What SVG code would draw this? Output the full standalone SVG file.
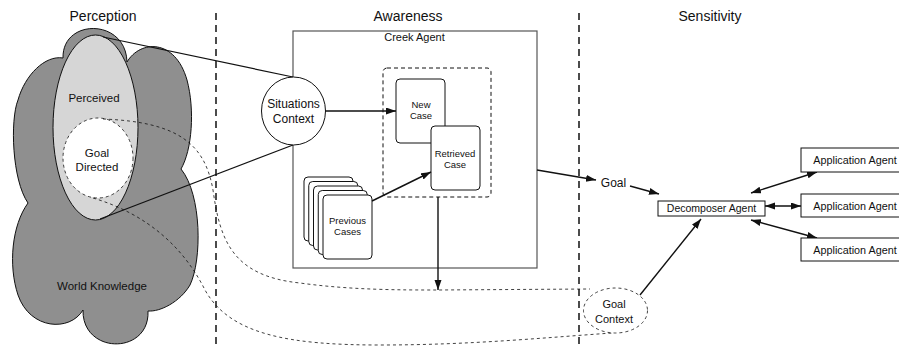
<svg xmlns="http://www.w3.org/2000/svg" width="899" height="348" viewBox="0 0 899 348">
  <style>
    text { font-family: "Liberation Sans", Arial, Helvetica, sans-serif; fill: #111; text-anchor: middle; }
    .hdr { font-size: 14px; }
    .lbl { font-size: 11.5px; }
    .sm { font-size: 9.5px; }
    .box { fill: #fff; stroke: #111; stroke-width: 1; }
    .card { fill: #fff; stroke: #111; stroke-width: 1; }
    .sep { stroke: #111; stroke-width: 1.5; stroke-dasharray: 7 5; fill: none; }
    .thin { stroke: #111; stroke-width: 0.8; stroke-dasharray: 3 3; fill: none; }
    .edge { stroke: #111; stroke-width: 1.2; fill: none; }
    .arrow { stroke: #111; stroke-width: 1.4; fill: none; marker-end: url(#head); }
    .both { stroke: #111; stroke-width: 1.4; fill: none; marker-end: url(#head); marker-start: url(#head); }
  </style>
  <defs>
    <marker id="head" markerUnits="userSpaceOnUse" markerWidth="11" markerHeight="8" refX="10" refY="3.5" orient="auto-start-reverse">
      <path d="M0,0 L10,3.5 L0,7 z" fill="#111"/>
    </marker>
  </defs>

  <rect width="899" height="348" fill="#fff"/>

  <!-- column headings -->
  <text class="hdr" x="103" y="21">Perception</text>
  <text class="hdr" x="408" y="21">Awareness</text>
  <text class="hdr" x="710" y="21">Sensitivity</text>

  <!-- column separators -->
  <line class="sep" x1="216" y1="13" x2="216" y2="348"/>
  <line class="sep" x1="579" y1="13" x2="579" y2="348"/>

  <!-- World knowledge cloud -->
  <g id="world-knowledge">
    <path d="M63,58 C62,18 126,18 127,62 C140,40 175,38 187,80 C195,110 192,150 181,169 C202,195 202,260 190,285 C180,302 160,312 148,311 C150,355 82,355 83,310 C70,332 30,330 18,295 C8,265 12,225 28,203 C12,180 10,120 18,100 C25,75 45,55 63,58 Z" fill="#8f8f8f" stroke="#111" stroke-width="1"/>
    <text class="lbl" x="102" y="290">World Knowledge</text>
  </g>

  <g id="perceived">
    <ellipse cx="95.5" cy="127.5" rx="42.5" ry="92.5" fill="#d6d6d6" stroke="#111" stroke-width="1"/>
    <text class="lbl" x="94" y="102">Perceived</text>
  </g>

  <g id="goal-directed">
    <ellipse cx="98" cy="158" rx="35" ry="40" fill="#fff" stroke="#111" stroke-width="0.8" stroke-dasharray="3 3"/>
    <text class="lbl" x="97" y="157">Goal</text>
    <text class="lbl" x="97" y="171">Directed</text>
  </g>

  <!-- Creek agent container -->
  <g id="creek-agent">
    <rect x="293" y="31" width="244" height="237" fill="none" stroke="#555" stroke-width="1.2"/>
    <text x="414.5" y="41" style="font-size:11px">Creek Agent</text>
  </g>

  <g id="case-pair">
    <rect x="383" y="68" width="108" height="129" rx="4" fill="none" stroke="#111" stroke-width="1" stroke-dasharray="4 3"/>
  </g>

  <g id="new-case">
    <rect class="card" x="396" y="79" width="49" height="64" rx="4"/>
    <text class="sm" x="421" y="108">New</text>
    <text class="sm" x="421" y="119">Case</text>
  </g>

  <g id="retrieved-case">
    <rect class="card" x="431" y="126" width="49" height="64" rx="4"/>
    <text class="sm" x="455" y="157">Retrieved</text>
    <text class="sm" x="455" y="168">Case</text>
  </g>

  <g id="previous-cases">
    <rect class="card" x="304" y="177" width="49" height="64" rx="4"/>
    <rect class="card" x="308.75" y="181.5" width="49" height="64" rx="4"/>
    <rect class="card" x="313.5" y="186" width="49" height="64" rx="4"/>
    <rect class="card" x="318.25" y="190.5" width="49" height="64" rx="4"/>
    <rect class="card" x="323" y="195" width="49" height="64" rx="4"/>
    <text class="sm" x="347.5" y="224">Previous</text>
    <text class="sm" x="347.5" y="235">Cases</text>
  </g>

  <!-- connectors -->
  <g id="connectors">
    <line class="edge" x1="103" y1="37" x2="293" y2="77"/>
    <line class="edge" x1="100" y1="219" x2="293" y2="145"/>
    <path class="thin" d="M103,119 C180,122 205,145 213,190 C220,240 232,276 300,283 C350,290 400,290 438,290 L590,289"/>
    <path class="thin" d="M93,198 C150,215 185,250 205,290 C230,335 290,345 380,345 C470,345 540,338 612,333"/>
    <line class="arrow" x1="325" y1="111" x2="396" y2="111"/>
    <line class="arrow" x1="372" y1="201" x2="431" y2="172"/>
    <line class="arrow" x1="438" y1="197" x2="438" y2="290"/>
    <line class="arrow" x1="537" y1="170" x2="596" y2="180"/>
    <line class="arrow" x1="630" y1="186" x2="659" y2="194"/>
    <line class="arrow" x1="640" y1="295" x2="701" y2="219"/>
    <line class="both" x1="751" y1="193" x2="817" y2="172"/>
    <line class="both" x1="765" y1="206" x2="801" y2="206"/>
    <line class="both" x1="751" y1="220" x2="817" y2="238"/>
  </g>

  <g id="situations-context">
    <ellipse cx="293.5" cy="111" rx="32" ry="34" fill="#fff" stroke="#111" stroke-width="1"/>
    <text x="293.5" y="108" style="font-size:12px">Situations</text>
    <text x="293.5" y="123" style="font-size:12px">Context</text>
  </g>

  <g id="goal">
    <text x="613.5" y="187" style="font-size:12px">Goal</text>
  </g>

  <g id="goal-context">
    <ellipse cx="615.5" cy="310.5" rx="32" ry="22.5" fill="#fff" stroke="#111" stroke-width="0.8" stroke-dasharray="3 3"/>
    <text x="614" y="308" style="font-size:11px">Goal</text>
    <text x="614" y="323" style="font-size:11px">Context</text>
  </g>

  <g id="decomposer-agent">
    <rect class="box" x="658" y="201" width="107" height="15"/>
    <text x="711.5" y="212" style="font-size:10.5px">Decomposer Agent</text>
  </g>

  <g id="application-agent-1">
    <rect class="box" x="801" y="148" width="100" height="24"/>
    <text x="855" y="164" style="font-size:10.8px">Application Agent</text>
  </g>
  <g id="application-agent-2">
    <rect class="box" x="801" y="194" width="100" height="23"/>
    <text x="855" y="209.5" style="font-size:10.8px">Application Agent</text>
  </g>
  <g id="application-agent-3">
    <rect class="box" x="801" y="238" width="100" height="23"/>
    <text x="855" y="253.5" style="font-size:10.8px">Application Agent</text>
  </g>
</svg>
